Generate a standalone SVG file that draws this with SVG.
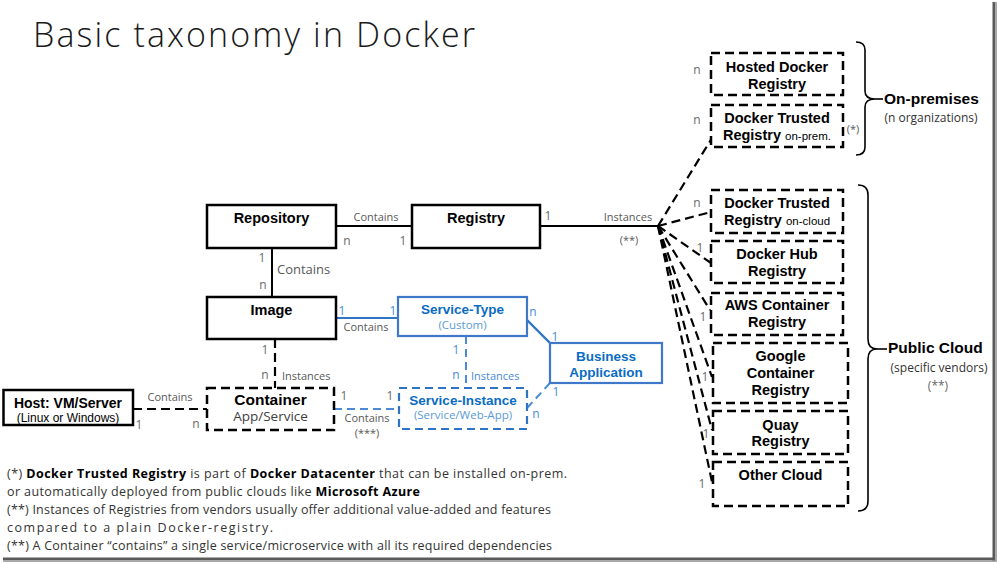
<svg xmlns="http://www.w3.org/2000/svg" width="997" height="563" viewBox="0 0 997 563">
<style>
.box{fill:#fff;stroke:#000;stroke-width:2.5}
.dbox{fill:#fff;stroke:#000;stroke-width:2.5;stroke-dasharray:9 5}
.bbox{fill:#fff;stroke:#3f78c8;stroke-width:2.2}
.bdbox{fill:#fff;stroke:#2f74c4;stroke-width:2.2;stroke-dasharray:8 5}
.ln{fill:none;stroke:#000;stroke-width:2}
.dln{fill:none;stroke:#000;stroke-width:2.2;stroke-dasharray:9 5}
.bln{fill:none;stroke:#2e75c6;stroke-width:2}
.bdln{fill:none;stroke:#4a8ad6;stroke-width:2;stroke-dasharray:8 5}
.brace{fill:none;stroke:#000;stroke-width:1.6}
.nt{font-family:"Liberation Sans",Arial,sans-serif;font-weight:bold;font-size:14.5px;fill:#000;text-anchor:middle}
.nts{font-family:"Liberation Sans",Arial,sans-serif;font-weight:normal;font-size:11.5px;fill:#000}
.bt{font-family:"Liberation Sans",Arial,sans-serif;font-weight:bold;font-size:13.5px;fill:#0a6cc4;text-anchor:middle}
.bst{font-family:"Open Sans",sans-serif;font-size:11.5px;fill:#5b9bd5;text-anchor:middle}
.lbl{font-family:"Open Sans",sans-serif;font-size:11px;fill:#595959}
.num{font-family:"Open Sans",sans-serif;font-size:12px;fill:#6a6a6a;text-anchor:middle}
.bnum{font-family:"Open Sans",sans-serif;font-size:12px;fill:#4a8ad6;text-anchor:middle}
.blbl{font-family:"Open Sans",sans-serif;font-size:11px;fill:#4a8ad6}
.grp{font-family:"Liberation Sans",Arial,sans-serif;font-weight:bold;font-size:15.5px;fill:#000}
.grps{font-family:"Open Sans",sans-serif;font-size:12px;fill:#333;text-anchor:middle}
.fn{font-family:"Open Sans",sans-serif;font-size:12.5px;fill:#333}
.fn tspan.b{font-weight:bold;fill:#000}
.mid{text-anchor:middle}
</style>
<rect x="0" y="0" width="997" height="563" fill="#fff"/>
<!-- frame shadow -->
<rect x="992.5" y="2" width="3" height="559" fill="#5a5a5a"/>
<rect x="995.5" y="2" width="1.5" height="560" fill="#a8a8a8"/>
<rect x="3" y="557.5" width="992" height="3" fill="#5a5a5a"/>
<rect x="3" y="560.5" width="994" height="1.5" fill="#a8a8a8"/>

<text x="33" y="47" font-family="'Open Sans',sans-serif" font-weight="300" font-size="34" fill="#1a1a1a" textLength="442">Basic taxonomy in Docker</text>

<g id="connectors">
  <line class="ln" x1="336" y1="226" x2="412" y2="226"/>
  <line class="ln" x1="540" y1="226" x2="658" y2="226"/>
  <line class="ln" x1="272" y1="248" x2="272" y2="297"/>
  <line class="bln" x1="336" y1="318" x2="398" y2="318"/>
  <line class="bln" x1="527" y1="320" x2="550" y2="343" style="stroke-width:2.4"/>
  <line class="bdln" x1="550" y1="383" x2="527" y2="408"/>
  <line class="dln" x1="275" y1="339" x2="275" y2="388"/>
  <line class="bdln" x1="466" y1="336" x2="466" y2="388"/>
  <line class="bdln" x1="334" y1="409" x2="399" y2="409"/>
  <line class="dln" x1="133" y1="409" x2="207" y2="409"/>
  <line class="dln" x1="658" y1="226" x2="712" y2="138"/>
  <line class="dln" x1="658" y1="226" x2="711" y2="212"/>
  <line class="dln" x1="658" y1="226" x2="711" y2="263"/>
  <line class="dln" x1="658" y1="226" x2="710" y2="310"/>
  <line class="dln" x1="658" y1="226" x2="712" y2="377"/>
  <line class="dln" x1="658" y1="226" x2="712" y2="430"/>
  <line class="dln" x1="658" y1="226" x2="712" y2="482"/>
  <!-- braces -->
  <path class="brace" d="M856,42 Q865,42 865,50 L865,91 Q865,99 875,99 Q865,99 865,107 L865,147 Q865,155 856,155"/>
  <line class="brace" x1="875" y1="99" x2="883" y2="99"/>
  <path class="brace" d="M858,185 Q868,185 868,195 L868,339 Q868,349 877,349 Q868,349 868,359 L868,501 Q868,511 858,511"/>
  <line class="brace" x1="877" y1="349" x2="887" y2="349"/>
  <!-- connector labels -->
  <text class="lbl mid" x="376" y="221">Contains</text>
  <text class="num" x="347" y="245">n</text>
  <text class="num" x="403" y="245">1</text>
  <text class="num" x="548" y="220">1</text>
  <text class="lbl mid" x="628" y="221">Instances</text>
  <text class="lbl mid" x="629" y="244">(**)</text>
  <text class="num" x="262" y="262">1</text>
  <text class="lbl" x="277" y="274" style="font-size:13px">Contains</text>
  <text class="num" x="263" y="289">n</text>
  <text class="bnum" x="342" y="315">1</text>
  <text class="bnum" x="393" y="315">1</text>
  <text class="lbl mid" x="366" y="331">Contains</text>
  <text class="bnum" x="533" y="316">n</text>
  <text class="bnum" x="555" y="341">1</text>
  <text class="num" x="265" y="354">1</text>
  <text class="num" x="265" y="379">n</text>
  <text class="lbl" x="282" y="380">Instances</text>
  <text class="bnum" x="456" y="354">1</text>
  <text class="bnum" x="456" y="379">n</text>
  <text class="blbl" x="471" y="380">Instances</text>
  <text class="bnum" x="556" y="396">1</text>
  <text class="bnum" x="536" y="418">n</text>
  <text class="num" x="344" y="400">1</text>
  <text class="num" x="390" y="400">1</text>
  <text class="lbl mid" x="367" y="422">Contains</text>
  <text class="lbl mid" x="367" y="437">(***)</text>
  <text class="lbl mid" x="170" y="401">Contains</text>
  <text class="num" x="139" y="429">1</text>
  <text class="num" x="196" y="428">n</text>
  <text class="num" x="697" y="74">n</text>
  <text class="num" x="697" y="124">n</text>
  <text class="lbl mid" x="853" y="133">(*)</text>
  <text class="num" x="697" y="207">n</text>
  <text class="num" x="700" y="252">1</text>
  <text class="num" x="703" y="321">1</text>
  <text class="num" x="705" y="381">1</text>
  <text class="num" x="706" y="438">1</text>
  <text class="num" x="702" y="488">1</text>
</g>

<g id="repository">
  <rect class="box" x="207" y="205" width="129" height="43"/>
  <text class="nt" x="271.5" y="223">Repository</text>
</g>
<g id="registry">
  <rect class="box" x="412" y="205" width="128" height="43"/>
  <text class="nt" x="476" y="223">Registry</text>
</g>
<g id="image">
  <rect class="box" x="207" y="297" width="129" height="42"/>
  <text class="nt" x="271.5" y="315">Image</text>
</g>
<g id="service-type">
  <rect class="bbox" x="398" y="297" width="129" height="39"/>
  <text class="bt" x="462.5" y="314">Service-Type</text>
  <text class="bst" x="462.5" y="329">(Custom)</text>
</g>
<g id="business-application">
  <rect class="bbox" x="550" y="343" width="112" height="40"/>
  <text class="bt" x="606" y="361">Business</text>
  <text class="bt" x="606" y="377">Application</text>
</g>
<g id="container">
  <rect class="dbox" x="207" y="388" width="127" height="42"/>
  <text class="nt" x="270.5" y="405" style="font-size:15.5px">Container</text>
  <text x="270.5" y="421" font-family="'Open Sans',sans-serif" font-size="13.5" fill="#404040" text-anchor="middle">App/Service</text>
</g>
<g id="service-instance">
  <rect class="bdbox" x="399" y="388" width="128" height="41"/>
  <text class="bt" x="463" y="405">Service-Instance</text>
  <text class="bst" x="463" y="419">(Service/Web-App)</text>
</g>
<g id="host">
  <rect class="box" x="3.5" y="390" width="129.5" height="35"/>
  <text class="nt" x="68" y="408" style="font-size:14px">Host: VM/Server</text>
  <text x="68" y="421.5" font-family="'Liberation Sans',Arial,sans-serif" font-size="12" fill="#000" text-anchor="middle">(Linux or Windows)</text>
</g>

<g id="hosted-docker-registry">
  <rect class="dbox" x="711" y="53" width="132" height="42"/>
  <text class="nt" x="777" y="72">Hosted Docker</text>
  <text class="nt" x="777" y="89">Registry</text>
</g>
<g id="dtr-on-prem">
  <rect class="dbox" x="711" y="105" width="132" height="42"/>
  <text class="nt" x="777" y="123">Docker Trusted</text>
  <text class="nt" x="777" y="140">Registry <tspan class="nts">on-prem.</tspan></text>
</g>
<g id="dtr-on-cloud">
  <rect class="dbox" x="711" y="190" width="132" height="43"/>
  <text class="nt" x="777" y="208">Docker Trusted</text>
  <text class="nt" x="777" y="225">Registry <tspan class="nts">on-cloud</tspan></text>
</g>
<g id="docker-hub">
  <rect class="dbox" x="711" y="241" width="132" height="42"/>
  <text class="nt" x="777" y="259">Docker Hub</text>
  <text class="nt" x="777" y="276">Registry</text>
</g>
<g id="aws">
  <rect class="dbox" x="711" y="293" width="132" height="42"/>
  <text class="nt" x="777" y="310">AWS Container</text>
  <text class="nt" x="777" y="327">Registry</text>
</g>
<g id="google">
  <rect class="dbox" x="713" y="343" width="135" height="60"/>
  <text class="nt" x="780.5" y="361">Google</text>
  <text class="nt" x="780.5" y="378">Container</text>
  <text class="nt" x="780.5" y="395">Registry</text>
</g>
<g id="quay">
  <rect class="dbox" x="713" y="411" width="135" height="43"/>
  <text class="nt" x="780.5" y="430">Quay</text>
  <text class="nt" x="780.5" y="446">Registry</text>
</g>
<g id="other-cloud">
  <rect class="dbox" x="713" y="462" width="135" height="44"/>
  <text class="nt" x="780.5" y="480">Other Cloud</text>
</g>

<g id="on-premises">
  <text class="grp" x="884" y="104">On-premises</text>
  <text class="grps" x="931" y="122">(n organizations)</text>
</g>
<g id="public-cloud">
  <text class="grp" x="888" y="353">Public Cloud</text>
  <text class="grps" x="939" y="372">(specific vendors)</text>
  <text class="grps" x="938" y="390" style="fill:#666">(**)</text>
</g>

<g id="footnotes">
  <text class="fn" x="7" y="478" textLength="560">(*) <tspan class="b">Docker Trusted Registry</tspan> is part of <tspan class="b">Docker Datacenter</tspan> that can be installed on-prem.</text>
  <text class="fn" x="7" y="496" textLength="413">or automatically deployed from public clouds like <tspan class="b">Microsoft Azure</tspan></text>
  <text class="fn" x="7" y="514" textLength="544">(**) Instances of Registries from vendors usually offer additional value-added and features</text>
  <text class="fn" x="7" y="532" textLength="266">compared to a plain Docker-registry.</text>
  <text class="fn" x="7" y="550" textLength="545">(**) A Container “contains” a single service/microservice with all its required dependencies</text>
</g>
</svg>
